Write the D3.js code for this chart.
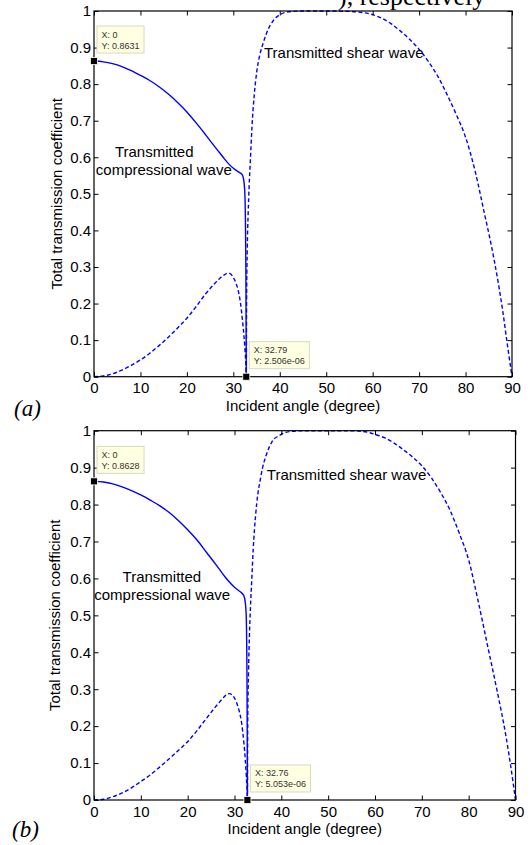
<!DOCTYPE html>
<meta charset="utf-8">
<style>
body { margin: 0; background: #fff; }
svg text { font-family: Arial, "Liberation Sans", sans-serif; }
.tick text { font-size: 15px; fill: #000; }
.tick line { stroke: #000; stroke-width: 1; }
.axis-title { font-size: 15px; fill: #000; }
.note { font-size: 15px; fill: #000; }
.tag { font-family: "Liberation Serif", "Times New Roman", serif !important; font-style: italic; font-size: 23px; }
.caption { font-family: "Liberation Serif", "Times New Roman", serif !important; font-size: 26px; }
.tip-text { font-size: 9px; fill: #333; }
</style>
<body>
<svg width="531" height="845"></svg>

<script src="https://d3js.org/d3.v7.min.js"></script>
<script>

// ticks
var xTicks = [0, 10, 20, 30, 40, 50, 60, 70, 80, 90];
var yTicks = [0, 0.1, 0.2, 0.3, 0.4, 0.5, 0.6, 0.7, 0.8, 0.9, 1];

// panel (a) - transmitted compressional wave (solid)
var angleP_a = [0, 2, 4, 6, 8, 10, 12, 14, 16, 18, 20, 22, 24, 26, 27, 28, 29, 30, 31, 31.5, 32, 32.3, 32.5, 32.6, 32.7, 32.75, 32.79];
var coefP_a  = [0.8631, 0.861, 0.856, 0.848, 0.837, 0.824, 0.810, 0.793, 0.773, 0.750, 0.724, 0.694, 0.662, 0.629, 0.613, 0.597, 0.582, 0.570, 0.561, 0.557, 0.550, 0.532, 0.495, 0.43, 0.29, 0.15, 0.0000025];
// panel (a) - transmitted shear wave (dashed)
var angleS_a = [0, 2, 4, 6, 8, 10, 12, 14, 16, 18, 20, 22, 24, 26, 27, 28, 28.5, 29, 29.5, 30, 30.5, 31, 31.5, 32, 32.3, 32.5, 32.65, 32.79,
                32.85, 33, 33.2, 33.4, 33.7, 34, 34.5, 35, 35.7, 36.5, 37.5, 38.5, 40, 42, 45, 50, 55, 57, 60, 62, 64, 66, 68, 70, 72, 74, 76, 78, 80, 82, 84, 86, 88, 89, 90];
var coefS_a  = [0, 0.002, 0.008, 0.018, 0.031, 0.046, 0.064, 0.085, 0.108, 0.133, 0.160, 0.192, 0.226, 0.255, 0.268, 0.278, 0.282, 0.283, 0.280, 0.271, 0.258, 0.238, 0.205, 0.150, 0.110, 0.075, 0.045, 0.002,
                0.2, 0.35, 0.45, 0.52, 0.60, 0.68, 0.77, 0.83, 0.88, 0.915, 0.95, 0.972, 0.99, 0.998, 1.0, 1.0, 0.999, 0.997, 0.99, 0.98, 0.965, 0.945, 0.922, 0.895, 0.862, 0.822, 0.772, 0.717, 0.655, 0.565, 0.45, 0.33, 0.18, 0.088, 0];

// panel (b) - transmitted compressional wave (solid)
var angleP_b = [0, 2, 4, 6, 8, 10, 12, 14, 16, 18, 20, 22, 24, 26, 27, 28, 29, 30, 31, 31.5, 32, 32.3, 32.5, 32.6, 32.68, 32.72, 32.76];
var coefP_b  = [0.8628, 0.861, 0.856, 0.848, 0.838, 0.826, 0.812, 0.797, 0.779, 0.757, 0.732, 0.704, 0.671, 0.638, 0.621, 0.604, 0.589, 0.576, 0.566, 0.561, 0.553, 0.535, 0.50, 0.43, 0.30, 0.15, 0.000005];
// panel (b) - transmitted shear wave (dashed)
var angleS_b = [0, 2, 4, 6, 8, 10, 12, 14, 16, 18, 20, 22, 24, 26, 27, 28, 28.5, 29, 29.5, 30, 30.5, 31, 31.5, 32, 32.3, 32.5, 32.65, 32.76,
                32.82, 33, 33.2, 33.4, 33.7, 34, 34.5, 35, 35.4, 36, 36.8, 38, 39.7, 42, 45, 50, 55, 58, 60, 62, 64, 66, 68, 70, 72, 74, 76, 78, 80, 82, 84, 86, 88, 89, 90];
var coefS_b  = [0, 0.002, 0.009, 0.019, 0.033, 0.050, 0.068, 0.089, 0.111, 0.134, 0.158, 0.188, 0.221, 0.253, 0.268, 0.282, 0.287, 0.288, 0.284, 0.276, 0.262, 0.241, 0.210, 0.155, 0.110, 0.070, 0.035, 0.002,
                0.2, 0.35, 0.45, 0.52, 0.60, 0.68, 0.77, 0.83, 0.86, 0.90, 0.935, 0.97, 0.988, 0.998, 1.0, 1.0, 1.0, 0.997, 0.99, 0.981, 0.967, 0.949, 0.929, 0.905, 0.873, 0.833, 0.785, 0.722, 0.65, 0.54, 0.42, 0.30, 0.17, 0.09, 0];

// data tips
var tipX_a = [0, 32.79], tipY_a = [0.8631, 2.506e-06];
var tipX_b = [0, 32.76], tipY_b = [0.8628, 5.053e-06];

var svg = d3.select("svg");

svg.append("rect").attr("width", 531).attr("height", 845).attr("fill", "#fff");

// tail of the caption above, cut by the crop
svg.append("text")
    .attr("class", "caption")
    .attr("x", 338)
    .attr("y", 5)
    .text("), respectively");

function fmtTip(v) {
  if (v !== 0 && Math.abs(v) < 1e-4) {
    var e = Math.floor(Math.log10(Math.abs(v)));
    var m = v / Math.pow(10, e);
    var ea = Math.abs(e);
    return m.toFixed(3) + "e" + (e < 0 ? "-" : "+") + (ea < 10 ? "0" + ea : ea);
  }
  return d3.format(".4~g")(v);
}

function drawPanel(p) {
  var x = d3.scaleLinear().domain([0, 90]).range([p.left, p.right]),
      y = d3.scaleLinear().domain([0, 1]).range([p.bottom, p.top]);

  var g = svg.append("g");

  // curves
  var line = d3.line()
      .x(function(d) { return x(d[0]); })
      .y(function(d) { return y(d[1]); })
      .curve(d3.curveMonotoneX);

  var shear = d3.zip(p.angleS, p.coefS),
      comp = d3.zip(p.angleP, p.coefP);

  g.append("path")
      .datum(shear)
      .attr("d", line)
      .attr("fill", "none")
      .attr("stroke", "#0000ff")
      .attr("stroke-width", 1.4)
      .attr("stroke-dasharray", "4,2.5");

  g.append("path")
      .datum(comp)
      .attr("d", line)
      .attr("fill", "none")
      .attr("stroke", "#0000ff")
      .attr("stroke-width", 1.4);

  // axes, ticks inward on all four sides
  g.append("g")
      .attr("transform", "translate(0," + p.bottom + ")")
      .call(d3.axisBottom(x).tickValues(xTicks).tickSizeInner(-4.5).tickSizeOuter(0).tickPadding(6).tickFormat(d3.format("~g")))
      .call(function(a) { a.select(".domain").remove(); });

  g.append("g")
      .attr("transform", "translate(0," + p.top + ")")
      .call(d3.axisTop(x).tickValues(xTicks).tickSizeInner(-4.5).tickSizeOuter(0).tickFormat(""))
      .call(function(a) { a.select(".domain").remove(); });

  g.append("g")
      .attr("transform", "translate(" + p.left + ",0)")
      .call(d3.axisLeft(y).tickValues(yTicks).tickSizeInner(-4.5).tickSizeOuter(0).tickPadding(3).tickFormat(d3.format("~g")))
      .call(function(a) { a.select(".domain").remove(); });

  g.append("g")
      .attr("transform", "translate(" + p.right + ",0)")
      .call(d3.axisRight(y).tickValues(yTicks).tickSizeInner(-4.5).tickSizeOuter(0).tickFormat(""))
      .call(function(a) { a.select(".domain").remove(); });

  g.selectAll(".tick text").attr("font-family", null).attr("font-size", null);

  g.append("rect")
      .attr("x", p.left)
      .attr("y", p.top)
      .attr("width", p.right - p.left)
      .attr("height", p.bottom - p.top)
      .attr("fill", "none")
      .attr("stroke", "#000")
      .attr("stroke-width", 1.2);

  // axis titles
  g.append("text")
      .attr("class", "axis-title")
      .attr("text-anchor", "middle")
      .attr("x", (p.left + p.right) / 2)
      .attr("y", p.titleY)
      .text("Incident angle (degree)");

  g.append("text")
      .attr("class", "axis-title")
      .attr("text-anchor", "middle")
      .attr("transform", "translate(" + p.yTitleX + "," + (p.top + p.bottom) / 2 + ") rotate(-90)")
      .text("Total transmission coefficient");

  // curve labels
  p.notes.forEach(function(n) {
    g.append("text")
        .attr("class", "note")
        .attr("x", x(n.a))
        .attr("y", y(n.v))
        .attr("dy", "0.35em")
        .text(n.t);
  });

  // data tips
  p.tipX.forEach(function(tx, i) {
    var mx = x(tx), my = y(p.tipY[i]);
    var tip = g.append("g");
    var box = tip.append("rect")
        .attr("x", mx + 3)
        .attr("y", my - 35)
        .attr("height", 27)
        .attr("fill", "#ffffe1")
        .attr("stroke", "#d8d8c4")
        .attr("stroke-width", 1);
    var t1 = tip.append("text").attr("class", "tip-text")
        .attr("x", mx + 7.5).attr("y", my - 23.5)
        .text("X: " + fmtTip(tx));
    var t2 = tip.append("text").attr("class", "tip-text")
        .attr("x", mx + 7.5).attr("y", my - 12.5)
        .text("Y: " + fmtTip(p.tipY[i]));
    var w = Math.max(t1.node().getComputedTextLength(), t2.node().getComputedTextLength());
    box.attr("width", w + 9);

    tip.append("rect")
        .attr("x", mx - 3.5)
        .attr("y", my - 3.5)
        .attr("width", 7)
        .attr("height", 7)
        .attr("fill", "#000")
        .attr("stroke", "#fffff0")
        .attr("stroke-width", 0.8);
  });

  svg.append("text")
      .attr("class", "tag")
      .attr("x", p.tagX)
      .attr("y", p.tagY)
      .text(p.tag);
}

drawPanel({
  left: 94, right: 512, top: 11, bottom: 376.7,
  titleY: 410.5, yTitleX: 61.5,
  tag: "(a)", tagX: 14, tagY: 416,
  angleP: angleP_a, coefP: coefP_a, angleS: angleS_a, coefS: coefS_a,
  tipX: tipX_a, tipY: tipY_a,
  notes: [
    {a: 36.6, v: 0.885, t: "Transmitted shear wave"},
    {a: 4.5, v: 0.615, t: "Transmitted"},
    {a: 0.4, v: 0.567, t: "compressional wave"}
  ]
});

drawPanel({
  left: 94, right: 515.5, top: 430.7, bottom: 800,
  titleY: 834, yTitleX: 60,
  tag: "(b)", tagX: 12, tagY: 837,
  angleP: angleP_b, coefP: coefP_b, angleS: angleS_b, coefS: coefS_b,
  tipX: tipX_b, tipY: tipY_b,
  notes: [
    {a: 36.9, v: 0.882, t: "Transmitted shear wave"},
    {a: 6.1, v: 0.605, t: "Transmitted"},
    {a: 0.06, v: 0.555, t: "compressional wave"}
  ]
});

</script>
